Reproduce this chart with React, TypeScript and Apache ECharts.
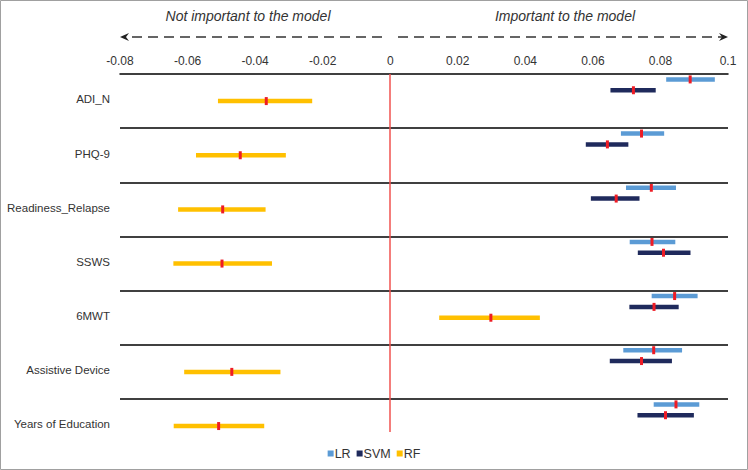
import React, { useEffect, useRef } from "react";
import * as echarts from "echarts";

const categories = ["ADI_N", "PHQ-9", "Readiness_Relapse", "SSWS", "6MWT", "Assistive Device", "Years of Education"];
const xTicks = { min: -0.08, max: 0.1, interval: 0.02 };

const lrMean = [0.0888, 0.0744, 0.0773, 0.0775, 0.0842, 0.078, 0.0846];
const lrLow = [0.0817, 0.0683, 0.0698, 0.0709, 0.0774, 0.069, 0.078];
const lrHigh = [0.0961, 0.0811, 0.0846, 0.0844, 0.091, 0.0864, 0.0915];

const svmMean = [0.072, 0.0643, 0.0669, 0.0809, 0.0781, 0.0744, 0.0815];
const svmLow = [0.0652, 0.0579, 0.0594, 0.0733, 0.0708, 0.065, 0.0732];
const svmHigh = [0.0786, 0.0705, 0.0738, 0.0889, 0.0854, 0.0834, 0.0899];

const rfMean = [-0.0367, -0.0444, -0.0496, -0.0498, 0.0298, -0.0469, -0.0508];
const rfLow = [-0.051, -0.0575, -0.0628, -0.0642, 0.0145, -0.061, -0.0641];
const rfHigh = [-0.0231, -0.0309, -0.0369, -0.035, 0.0443, -0.0325, -0.0373];

const FONT = "'Liberation Sans', Arial, sans-serif";

function buildSeries(name: string, color: string, low: number[], high: number[], mean: number[], offset: number) {
  return {
    name,
    type: "custom",
    itemStyle: { color },
    encode: { x: [0, 1, 2], y: 3 },
    data: low.map((l, i) => [l, high[i], mean[i], i + offset]),
    renderItem: (params: any, api: any) => {
      const y = api.value(3);
      const lo = api.coord([api.value(0), y]);
      const hi = api.coord([api.value(1), y]);
      const m = api.coord([api.value(2), y]);
      return {
        type: "group",
        children: [
          { type: "rect", shape: { x: lo[0], y: lo[1] - 2.25, width: hi[0] - lo[0], height: 4.5 }, style: { fill: color } },
          { type: "rect", shape: { x: m[0] - 1.5, y: m[1] - 4, width: 3, height: 8 }, style: { fill: "#ee1c25" } },
        ],
      };
    },
  };
}

export default function App() {
  const ref = useRef<HTMLDivElement>(null);
  useEffect(() => {
    document.body.style.margin = "0";
    const chart = echarts.init(ref.current!, null, { renderer: "svg" });
    const option: any = {
      animation: false,
      backgroundColor: "#ffffff",
      textStyle: { fontFamily: FONT },
      grid: { left: 120, right: 20, top: 74, height: 358 },
      xAxis: {
        type: "value",
        position: "top",
        min: xTicks.min,
        max: xTicks.max,
        interval: xTicks.interval,
        axisLine: { show: true, lineStyle: { color: "#000", width: 1.5 } },
        axisTick: { show: false },
        splitLine: { show: false },
        axisLabel: { color: "#333", fontSize: 12, margin: 7, fontFamily: FONT },
      },
      yAxis: {
        type: "value",
        inverse: true,
        min: 0,
        max: 6.61,
        show: false,
        splitLine: { show: false },
      },
      legend: {
        data: ["LR", "SVM", "RF"],
        left: "center",
        top: 442,
        icon: "rect",
        itemWidth: 6,
        itemHeight: 6,
        itemGap: 6,
        textStyle: { color: "#333", fontSize: 12.5, fontFamily: FONT, padding: [0, 0, 0, -4] },
      },
      graphic: [
        { type: "rect", shape: { x: 0.5, y: 0.5, width: 747, height: 469 }, style: { fill: "none", stroke: "#a0a0a0", lineWidth: 1 }, silent: true },
        { type: "text", x: 248, y: 16, style: { text: "Not important to the model", font: `italic 14px ${FONT}`, fill: "#333", textAlign: "center", textVerticalAlign: "middle" } },
        { type: "text", x: 565, y: 16, style: { text: "Important to the model", font: `italic 14px ${FONT}`, fill: "#333", textAlign: "center", textVerticalAlign: "middle" } },
        { type: "line", shape: { x1: 382, y1: 37, x2: 126, y2: 37 }, style: { stroke: "#333", lineWidth: 1.5, lineDash: [10, 6] } },
        { type: "polygon", shape: { points: [[120, 37], [129, 33], [126, 37], [129, 41]] }, style: { fill: "#222" } },
        { type: "line", shape: { x1: 398, y1: 37, x2: 722, y2: 37 }, style: { stroke: "#333", lineWidth: 1.5, lineDash: [10, 6] } },
        { type: "polygon", shape: { points: [[728, 37], [719, 33], [722, 37], [719, 41]] }, style: { fill: "#222" } },
      ],
      series: [
        {
          name: "labels",
          type: "custom",
          silent: true,
          encode: { x: 0, y: 1 },
          data: categories.map((c, i) => [0, i + 0.47]),
          renderItem: (params: any, api: any) => {
            const p = api.coord([0, api.value(1)]);
            return {
              type: "text",
              x: 110,
              y: p[1],
              style: { text: categories[params.dataIndex], font: `11.5px ${FONT}`, fill: "#333", textAlign: "right", textVerticalAlign: "middle" },
            };
          },
          markLine: {
            silent: true,
            symbol: "none",
            label: { show: false },
            lineStyle: { color: "#404040", width: 2, type: "solid" },
            data: [1, 2, 3, 4, 5, 6].map((v) => ({ yAxis: v })),
          },
          z: 1,
        },
        {
          name: "zero",
          type: "line",
          data: [],
          markLine: {
            silent: true,
            symbol: "none",
            label: { show: false },
            lineStyle: { color: "#f0524f", width: 1.5, type: "solid" },
            data: [{ xAxis: 0 }],
          },
          z: 2,
        },
        buildSeries("LR", "#5b9bd5", lrLow, lrHigh, lrMean, 0.1),
        buildSeries("SVM", "#1f2a5c", svmLow, svmHigh, svmMean, 0.3),
        buildSeries("RF", "#ffc000", rfLow, rfHigh, rfMean, 0.5),
      ],
    };
    chart.setOption(option);
    return () => chart.dispose();
  }, []);
  return <div ref={ref} style={{ width: 748, height: 470 }} />;
}
